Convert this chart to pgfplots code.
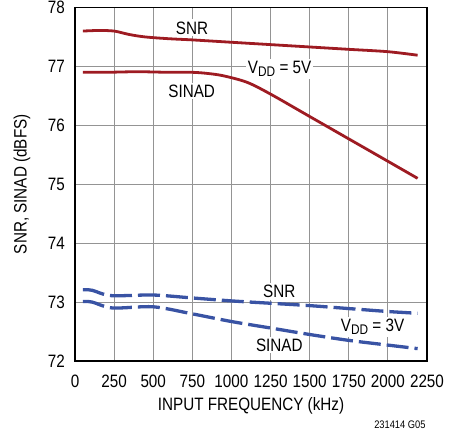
\documentclass[border=0pt]{standalone}
\usepackage{fontspec}
\setmainfont{Liberation Sans}[FakeStretch=0.85]
\usepackage{pgfplots}
\pgfplotsset{compat=1.18}
\definecolor{myred}{HTML}{9E1B22}
\definecolor{myblue}{HTML}{3953A4}
\newcommand{\VDD}{V\raisebox{-0.35ex}{\fontsize{14}{14}\selectfont DD}}
\begin{document}
\begin{tikzpicture}
\useasboundingbox (-75bp,-74bp) rectangle (377bp,361bp);
\begin{axis}[
  at={(0,0)}, anchor=south west,
  scale only axis, width=352bp, height=353.5bp,
  xmin=0, xmax=2250, ymin=72, ymax=78,
  xtick={0,250,...,2250}, ytick={72,73,...,78},
  grid=major, major grid style={color=black!42, line width=0.9bp},
  axis line style={line width=1.4bp},
  major tick length=0pt,
  font=\fontsize{18}{20}\selectfont,
  /pgf/number format/assume math mode=true,
  /pgf/number format/set thousands separator={},
  xticklabel style={anchor=base, inner sep=0pt, yshift=-26bp},
  yticklabel style={anchor=east, inner sep=0pt, xshift=-10bp},
  xlabel={INPUT FREQUENCY (kHz)},
  ylabel={SNR, SINAD (dBFS)},
  xlabel style={at={(axis description cs:0.5,-0.1414)}, anchor=base, inner sep=0pt},
  ylabel style={at={(axis description cs:-0.1506,0.5)}, anchor=center, inner sep=0pt},
  clip=false,
]
% VDD = 5V, SNR
\addplot[myred, line width=2.8bp, smooth, line join=round] coordinates {
 (50,77.60) (150,77.61) (250,77.60) (350,77.54) (450,77.50) (600,77.47) (750,77.45)
 (1000,77.41) (1250,77.37) (1500,77.33) (1750,77.29) (2000,77.25) (2190,77.19)};
% VDD = 5V, SINAD
\addplot[myred, line width=2.8bp, smooth, line join=round] coordinates {
 (50,76.90) (200,76.90) (400,76.91) (600,76.90) (750,76.90) (850,76.88) (950,76.84)
 (1100,76.73) (1250,76.53) (1500,76.15) (1750,75.77) (2000,75.39) (2190,75.10)};
% VDD = 3V, SNR
\addplot[myblue, line width=3.3bp, smooth, dash pattern=on 22bp off 6bp] coordinates {
 (50,73.21) (110,73.20) (230,73.11) (500,73.12) (750,73.07) (1000,73.02)
 (1250,72.98) (1500,72.94) (1750,72.89) (2000,72.84) (2190,72.81)};
% VDD = 3V, SINAD
\addplot[myblue, line width=3.3bp, smooth, dash pattern=on 22bp off 6bp] coordinates {
 (50,73.01) (110,73.00) (240,72.90) (500,72.92) (750,72.80) (1000,72.67)
 (1250,72.56) (1500,72.45) (1750,72.35) (2000,72.27) (2190,72.21)};

\node[fill=white, inner sep=2bp, anchor=base] at (axis cs:748,77.55) {SNR};
\node[fill=white, inner sep=2bp, anchor=base] at (axis cs:746,76.48) {SINAD};
\node[fill=white, inner sep=2bp, anchor=base] at (axis cs:1308,76.885) {\VDD{} = 5V};
\node[fill=white, inner sep=2bp, anchor=base] at (axis cs:1306,73.08) {SNR};
\node[fill=white, inner sep=2bp, anchor=base] at (axis cs:1902,72.505) {\VDD{} = 3V};
\node[fill=white, inner sep=2bp, anchor=base] at (axis cs:1306,72.166) {SINAD};
\node[anchor=base, inner sep=0pt, font=\fontsize{11}{12}\selectfont] at (axis description cs:0.923,-0.1904) {231414 G05};
\end{axis}
\end{tikzpicture}
\end{document}
